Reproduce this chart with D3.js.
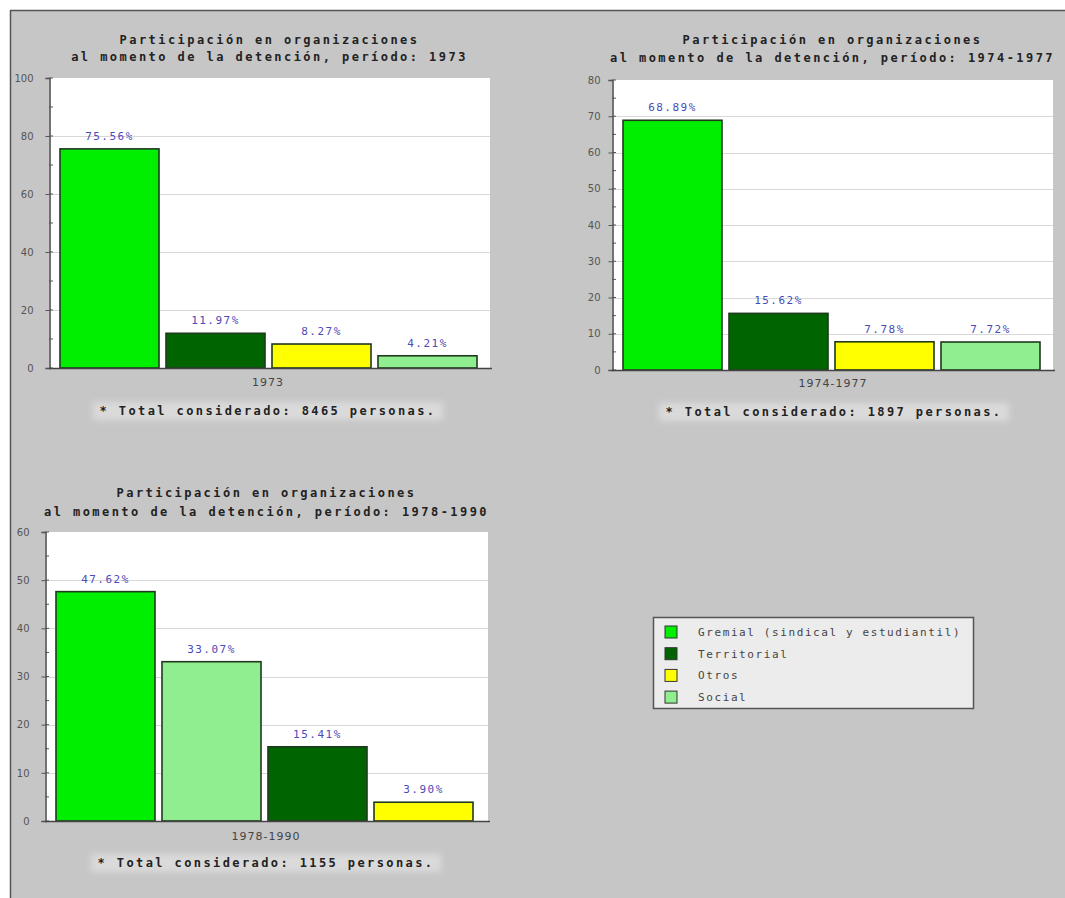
<!DOCTYPE html>
<html>
<head>
<meta charset="utf-8">
<script src="https://cdn.jsdelivr.net/npm/d3@7"></script>
<style>
  html, body { margin: 0; padding: 0; background: #ffffff; }
  svg { display: block; }
</style>
</head>
<body>
<script>
// ---------------- DATA ----------------
const categories = ["Gremial (sindical y estudiantil)", "Territorial", "Otros", "Social"];
const categoryColors = ["#00ee00", "#006400", "#ffff00", "#90ee90"];

const periods = ["1973", "1974-1977", "1978-1990"];
const titleLine1 = "Participación en organizaciones";
const titleLine2 = ["al momento de la detención, período: 1973",
                    "al momento de la detención, período: 1974-1977",
                    "al momento de la detención, período: 1978-1990"];

// values in category order: Gremial, Territorial, Otros, Social
const values1973 = [75.56, 11.97, 8.27, 4.21];
const values1974_1977 = [68.89, 15.62, 7.78, 7.72];
const values1978_1990 = [47.62, 15.41, 3.90, 33.07];

const totals = [8465, 1897, 1155];
const yMaxima = [100, 80, 60];
const yMajorSteps = [20, 10, 10];
const yMinorSteps = [10, 5, 5];

// ---------------- LAYOUT ----------------
const W = 1065, H = 898;
const panels = [
  { values: values1973,      left: 49,  right: 490,  top: 78,  bottom: 368, t1: 44,  t2: 61,  xl: 386, fn: 415, fnx: 268, xlx: 268 },
  { values: values1974_1977, left: 612, right: 1053, top: 80,  bottom: 370, t1: 44,  t2: 62,  xl: 387, fn: 416, fnx: 834, xlx: 833 },
  { values: values1978_1990, left: 45,  right: 488,  top: 532, bottom: 821, t1: 497, t2: 516, xl: 840, fn: 867, fnx: 266, xlx: 266 }
];

const svg = d3.select("body").append("svg").attr("width", W).attr("height", H);

const defs = svg.append("defs");
const blur = defs.append("filter").attr("id", "soft").attr("x", "-10%").attr("y", "-60%").attr("width", "120%").attr("height", "220%");
blur.append("feGaussianBlur").attr("stdDeviation", 3);

// page background with frame
svg.append("rect").attr("x", 10).attr("y", 10).attr("width", W - 10).attr("height", H - 10)
  .attr("fill", "#c6c6c6");
svg.append("line").attr("x1", 10.5).attr("x2", 10.5).attr("y1", 10).attr("y2", H).attr("stroke", "#555").attr("stroke-width", 1.5);
svg.append("line").attr("x1", 10).attr("x2", W).attr("y1", 10.5).attr("y2", 10.5).attr("stroke", "#555").attr("stroke-width", 1.5);

const monoBold = "'DejaVu Sans Mono', 'Liberation Mono', monospace";

panels.forEach((p, pi) => {
  const g = svg.append("g");
  const yMax = yMaxima[pi];

  const y = d3.scaleLinear().domain([0, yMax]).range([p.bottom, p.top]);

  // sort bars descending
  const bars = categories.map((c, i) => ({ cat: c, color: categoryColors[i], v: p.values[i] }))
    .sort((a, b) => b.v - a.v);

  const x = d3.scaleBand().domain(bars.map(d => d.cat))
    .range([p.left + 11, p.left + 11 + 417]).paddingInner(0.066).paddingOuter(0);

  // plot background
  g.append("rect").attr("x", p.left).attr("y", p.top)
    .attr("width", p.right - p.left).attr("height", p.bottom - p.top).attr("fill", "#ffffff");

  // grid lines
  const majors = d3.range(yMajorSteps[pi], yMax, yMajorSteps[pi]);
  g.selectAll(".grid").data(majors).enter().append("line")
    .attr("x1", p.left).attr("x2", p.right)
    .attr("y1", d => Math.round(y(d)) + 0.5).attr("y2", d => Math.round(y(d)) + 0.5)
    .attr("stroke", "#d8d8d8").attr("stroke-width", 1);

  // titles
  const tg = g.append("g").attr("font-family", monoBold).attr("font-weight", "bold")
    .attr("font-size", 12).attr("fill", "#222").attr("text-anchor", "middle");
  const cx = (p.left + p.right) / 2;
  tg.append("text").attr("x", cx).attr("y", p.t1).attr("letter-spacing", 2.45).text(titleLine1);
  tg.append("text").attr("x", cx).attr("y", p.t2).attr("letter-spacing", 2.45).text(titleLine2[pi]);

  // y axis
  const axis = d3.axisLeft(y).tickValues(d3.range(0, yMax + 0.001, yMajorSteps[pi]))
    .tickSize(4).tickPadding(p.left > 500 ? 8 : 12).tickFormat(d3.format("d"));
  const ag = g.append("g").attr("transform", `translate(${p.left + 0.5},0)`).call(axis);
  ag.select(".domain").attr("stroke", "#444").attr("stroke-width", 1.5);
  ag.selectAll(".tick line").attr("stroke", "#555");
  ag.selectAll(".tick text").attr("fill", "#555").attr("font-family", "'DejaVu Sans', sans-serif").attr("font-size", 10);

  // minor ticks
  const minors = d3.range(0, yMax + 0.001, yMinorSteps[pi]);
  g.selectAll(".minor").data(minors).enter().append("line")
    .attr("x1", p.left).attr("x2", p.left + 4)
    .attr("y1", d => y(d)).attr("y2", d => y(d))
    .attr("stroke", "#555").attr("stroke-width", 1);

  // bars
  g.selectAll(".bar").data(bars).enter().append("rect")
    .attr("x", d => x(d.cat)).attr("y", d => y(d.v))
    .attr("width", x.bandwidth()).attr("height", d => y(0) - y(d.v))
    .attr("fill", d => d.color).attr("stroke", "#1f3a1f").attr("stroke-width", 1.6);

  // value labels
  g.selectAll(".val").data(bars).enter().append("text")
    .attr("x", d => x(d.cat) + x.bandwidth() / 2).attr("y", d => y(d.v) - 9)
    .attr("text-anchor", "middle").attr("font-family", monoBold).attr("font-size", 11)
    .attr("letter-spacing", 1.5).attr("fill", "#4a4ab8")
    .text(d => d.v.toFixed(2) + "%");

  // x axis line
  g.append("line").attr("x1", p.left).attr("x2", p.right + 2)
    .attr("y1", p.bottom + 0.5).attr("y2", p.bottom + 0.5).attr("stroke", "#444").attr("stroke-width", 1.5);

  // category (period) label
  g.append("text").attr("x", p.xlx).attr("y", p.xl).attr("text-anchor", "middle")
    .attr("font-family", "'DejaVu Sans', sans-serif").attr("font-size", 11).attr("letter-spacing", 1)
    .attr("fill", "#444").text(periods[pi]);

  // footnote with soft light background
  const fnText = "* Total considerado: " + totals[pi] + " personas.";
  g.append("rect").attr("x", p.fnx - 175).attr("y", p.fn - 13).attr("width", 350).attr("height", 18)
    .attr("fill", "#dadada").attr("filter", "url(#soft)");
  g.append("text").attr("x", p.fnx).attr("y", p.fn).attr("text-anchor", "middle")
    .attr("font-family", monoBold).attr("font-weight", "bold").attr("font-size", 12)
    .attr("letter-spacing", 2.4).attr("fill", "#222").text(fnText);
});

// ---------------- LEGEND ----------------
const lg = svg.append("g");
lg.append("rect").attr("x", 653.5).attr("y", 617.5).attr("width", 320).attr("height", 91)
  .attr("fill", "#ececec").attr("stroke", "#555").attr("stroke-width", 1.5);
const items = lg.selectAll(".item").data(categories).enter().append("g")
  .attr("transform", (d, i) => `translate(0, ${632 + i * 21.7})`);
items.append("rect").attr("x", 665).attr("y", -6).attr("width", 12).attr("height", 12)
  .attr("fill", (d, i) => categoryColors[i]).attr("stroke", "#333").attr("stroke-width", 1);
items.append("text").attr("x", 698).attr("y", 4)
  .attr("font-family", monoBold).attr("font-size", 11).attr("letter-spacing", 1.6)
  .attr("fill", "#444").text(d => d);
</script>
</body>
</html>
